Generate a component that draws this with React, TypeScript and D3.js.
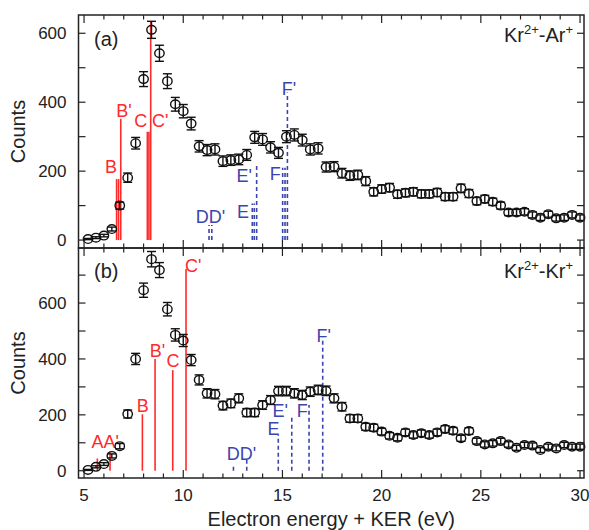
import React from "react";
import * as d3 from "d3";

// ---------- data ----------
const energies = [
  5.2, 5.6, 6.0, 6.4, 6.8, 7.2, 7.6, 8.0, 8.4, 8.8, 9.2, 9.6, 10.0, 10.4, 10.8, 11.2,
  11.6, 12.0, 12.4, 12.8, 13.2, 13.6, 14.0, 14.4, 14.8, 15.2, 15.6, 16.0, 16.4, 16.8,
  17.2, 17.6, 18.0, 18.4, 18.8, 19.2, 19.6, 20.0, 20.4, 20.8, 21.2, 21.6, 22.0, 22.4,
  22.8, 23.2, 23.6, 24.0, 24.4, 24.8, 25.2, 25.6, 26.0, 26.4, 26.8, 27.2, 27.6, 28.0,
  28.4, 28.8, 29.2, 29.6, 30.0,
];

const countsKrAr = [
  3, 7, 13, 32, 100, 181, 281, 467, 610, 542, 461, 394, 374, 338, 272, 261,
  263, 229, 232, 234, 247, 298, 292, 269, 253, 300, 305, 290, 263, 266,
  212, 213, 194, 187, 189, 171, 140, 148, 152, 133, 137, 140, 134, 134,
  138, 126, 126, 150, 135, 113, 119, 111, 100, 80, 80, 82, 73, 65,
  75, 63, 65, 73, 65,
];

const countsKrKr = [
  3, 14, 24, 53, 88, 203, 400, 646, 757, 718, 578, 486, 466, 396, 325, 277,
  274, 233, 241, 259, 208, 208, 235, 253, 285, 285, 277, 271, 283, 289,
  286, 259, 229, 187, 187, 157, 154, 140, 125, 118, 137, 128, 134, 128,
  137, 149, 143, 116, 142, 106, 94, 98, 106, 94, 82, 92, 90, 74,
  86, 80, 92, 86, 86,
];

// level lines: [energy, height]
const redLinesA: [number, number][] = [
  [6.64, 177], [6.74, 177], [6.85, 352], [8.19, 314], [8.27, 314], [8.36, 634],
];
const blueLinesA: [number, number][] = [
  [11.30, 44], [11.44, 44], [13.48, 106], [13.58, 106], [13.70, 221],
  [15.01, 210], [15.13, 210], [15.25, 428],
];
const redLinesB: [number, number][] = [
  [5.67, 44], [6.31, 66], [7.94, 202], [8.58, 400], [9.47, 360], [10.14, 722],
];
const blueLinesB: [number, number][] = [
  [12.53, 24], [13.20, 50], [14.79, 128], [15.47, 199], [16.34, 235], [17.03, 477],
];

// labels: [text, energy, counts, anchor]
const redLabelsA: [string, number, number, string][] = [
  ["B", 6.66, 194, "end"], ["B'", 6.62, 357, "start"], ["C", 8.18, 328, "end"], ["C'", 8.43, 328, "start"],
];
const blueLabelsA: [string, number, number, string][] = [
  ["DD'", 11.37, 49, "middle"], ["E'", 12.68, 168, "start"], ["E", 12.71, 64, "start"],
  ["F", 14.36, 174, "start"], ["F'", 14.96, 421, "start"],
];
const redLabelsB: [string, number, number, string][] = [
  ["AA'", 5.38, 81, "start"], ["B", 7.65, 210, "start"], ["B'", 8.31, 407, "start"],
  ["C", 9.16, 371, "start"], ["C'", 10.09, 711, "start"],
];
const blueLabelsB: [string, number, number, string][] = [
  ["DD'", 12.19, 38, "start"], ["E", 14.25, 128, "start"], ["E'", 14.5, 192, "start"],
  ["F", 15.72, 192, "start"], ["F'", 16.72, 460, "start"],
];

const xMajorTicks = [5, 10, 15, 20, 25, 30];
const xMinorTicks = [5, 6, 7, 8, 9, 10, 11, 12, 13, 14, 15, 16, 17, 18, 19, 20, 21, 22, 23, 24, 25, 26, 27, 28, 29, 30];
const yTicksA = [0, 100, 200, 300, 400, 500, 600];
const yTicksB = [0, 100, 200, 300, 400, 500, 600, 700];
const yTickLabels = [0, 200, 400, 600];

// ---------- layout ----------
const W = 589, H = 530;
const L = 78.5, R = 584;
const FONT = "'Liberation Sans', Arial, sans-serif";
const RED = "#ff2a2a";
const BLUE = "#3b45b0";

const x = d3.scaleLinear().domain([4.72, 30.2]).range([L, R]);

type PanelProps = {
  counts: number[];
  y: d3.ScaleLinear<number, number>;
  top: number;
  bottom: number;
  yTicks: number[];
  red: [number, number][];
  blue: [number, number][];
  redLabels: [string, number, number, string][];
  blueLabels: [string, number, number, string][];
  tag: string;
  tagBase: number;
  partner: string;
  sysBase: number;
};

function Panel(p: PanelProps) {
  const { y } = p;
  return (
    <g>
      {p.red.map(([e, h], i) => (
        <line key={"r" + i} x1={x(e)} x2={x(e)} y1={y(0)} y2={y(h)} stroke={RED} strokeWidth={1.6} />
      ))}
      {p.blue.map(([e, h], i) => (
        <line key={"b" + i} x1={x(e)} x2={x(e)} y1={y(0)} y2={y(h)} stroke={BLUE} strokeWidth={1.6} strokeDasharray="4,3" />
      ))}
      {p.redLabels.map(([t, e, c, a], i) => (
        <text key={"rl" + i} x={x(e)} y={y(c)} fill={RED} fontSize={18} textAnchor={a as any} fontFamily={FONT}>{t}</text>
      ))}
      {p.blueLabels.map(([t, e, c, a], i) => (
        <text key={"bl" + i} x={x(e)} y={y(c)} fill={BLUE} fontSize={18} textAnchor={a as any} fontFamily={FONT}>{t}</text>
      ))}
      {p.counts.map((c, i) => {
        const err = Math.sqrt(c);
        const cx = x(energies[i]);
        return (
          <g key={"d" + i} stroke="#111" strokeWidth={1.4} fill="none">
            <line x1={cx} x2={cx} y1={y(c - err)} y2={y(c + err)} />
            <line x1={cx - 4.5} x2={cx + 4.5} y1={y(c + err)} y2={y(c + err)} />
            <line x1={cx - 4.5} x2={cx + 4.5} y1={y(c - err)} y2={y(c - err)} />
            <ellipse cx={cx} cy={y(c)} rx={4.7} ry={4.3} />
          </g>
        );
      })}
      <rect x={L} y={p.top} width={R - L} height={p.bottom - p.top} fill="none" stroke="#222" strokeWidth={1.5} />
      {xMinorTicks.map((t) => {
        const len = xMajorTicks.includes(t) ? 8 : 4.5;
        return (
          <g key={"xt" + t} stroke="#222" strokeWidth={1.2}>
            <line x1={x(t)} x2={x(t)} y1={p.bottom} y2={p.bottom - len} />
            <line x1={x(t)} x2={x(t)} y1={p.top} y2={p.top + len} />
          </g>
        );
      })}
      {p.yTicks.map((t) => (
        <g key={"yt" + t} stroke="#222" strokeWidth={1.2}>
          <line x1={L} x2={L + 7} y1={y(t)} y2={y(t)} />
          <line x1={R} x2={R - 7} y1={y(t)} y2={y(t)} />
        </g>
      ))}
      {yTickLabels.map((t) => (
        <text key={"yl" + t} x={L - 12} y={y(t)} dy="0.36em" textAnchor="end" fontSize={17} fontFamily={FONT} fill="#222">{t}</text>
      ))}
      <text x={94} y={p.tagBase} fontSize={20} fontFamily={FONT} fill="#222">{p.tag}</text>
      <text x={573} y={p.sysBase} textAnchor="end" fontSize={20} fontFamily={FONT} fill="#222">
        Kr<tspan dy={-8} fontSize={13}>2+</tspan><tspan dy={8}>-{p.partner}</tspan><tspan dy={-8} fontSize={13}>+</tspan>
      </text>
      <text transform={`translate(25,${(p.top + p.bottom) / 2}) rotate(-90)`} textAnchor="middle" fontSize={20} fontFamily={FONT} fill="#222">Counts</text>
    </g>
  );
}

export default function App() {
  const yA = d3.scaleLinear().domain([-23, 653]).range([248, 15]);
  const yB = d3.scaleLinear().domain([-26, 797]).range([478, 248]);
  return (
    <svg width={W} height={H} style={{ position: "absolute", left: 0, top: 0, background: "#fff" }}>
      <rect width={W} height={H} fill="#fff" />
      <Panel counts={countsKrAr} y={yA} top={15} bottom={248} yTicks={yTicksA}
        red={redLinesA} blue={blueLinesA} redLabels={redLabelsA} blueLabels={blueLabelsA}
        tag="(a)" tagBase={46} partner="Ar" sysBase={42} />
      <Panel counts={countsKrKr} y={yB} top={248} bottom={478} yTicks={yTicksB}
        red={redLinesB} blue={blueLinesB} redLabels={redLabelsB} blueLabels={blueLabelsB}
        tag="(b)" tagBase={278} partner="Kr" sysBase={278} />
      {xMajorTicks.map((t) => (
        <text key={"xl" + t} x={x(t)} y={501} textAnchor="middle" fontSize={17} fontFamily={FONT} fill="#222">{t}</text>
      ))}
      <text x={(L + R) / 2} y={526} textAnchor="middle" fontSize={20} fontFamily={FONT} fill="#222">Electron energy + KER (eV)</text>
    </svg>
  );
}
